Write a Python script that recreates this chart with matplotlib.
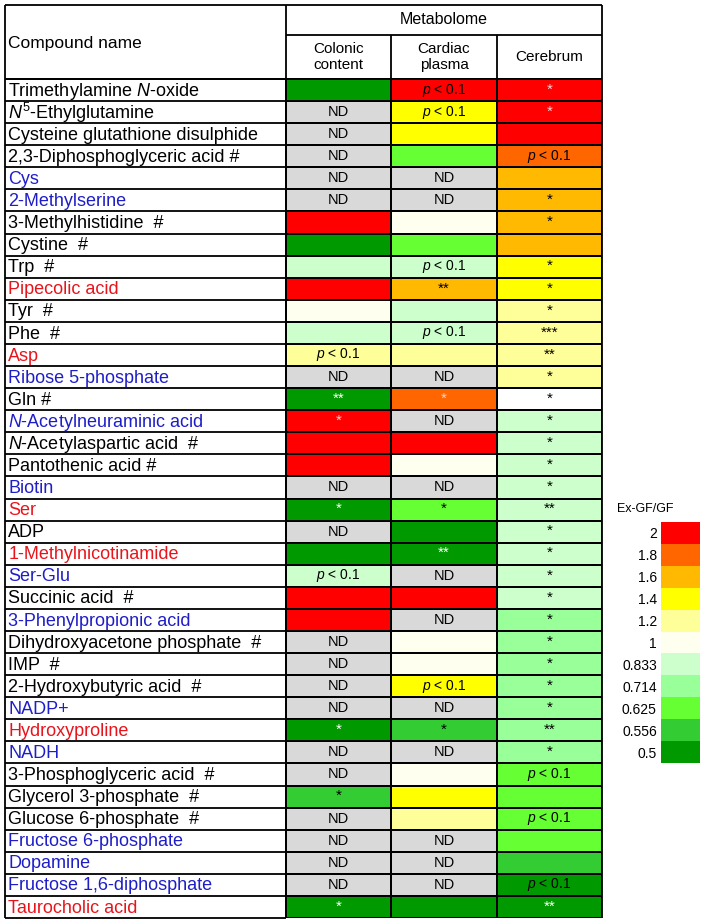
import numpy as np
import matplotlib
matplotlib.use('Agg')
import matplotlib.pyplot as plt
from matplotlib.colors import ListedColormap, BoundaryNorm

plt.rcParams['font.family'] = ['Liberation Sans', 'DejaVu Sans']
plt.rcParams['mathtext.fontset'] = 'custom'
plt.rcParams['mathtext.rm'] = 'Liberation Sans'
plt.rcParams['mathtext.it'] = 'Liberation Sans:italic'
plt.rcParams['mathtext.bf'] = 'Liberation Sans:bold'

# ---------------- data ----------------
compounds = [
    "Trimethylamine $N$-oxide", "$N^5$-Ethylglutamine", "Cysteine glutathione disulphide",
    "2,3-Diphosphoglyceric acid #", "Cys", "2-Methylserine", "3-Methylhistidine  #",
    "Cystine  #", "Trp  #", "Pipecolic acid", "Tyr  #", "Phe  #", "Asp",
    "Ribose 5-phosphate", "Gln #", "$N$-Acetylneuraminic acid", "$N$-Acetylaspartic acid  #",
    "Pantothenic acid #", "Biotin", "Ser", "ADP", "1-Methylnicotinamide", "Ser-Glu",
    "Succinic acid  #", "3-Phenylpropionic acid", "Dihydroxyacetone phosphate  #",
    "IMP  #", "2-Hydroxybutyric acid  #", "NADP+", "Hydroxyproline", "NADH",
    "3-Phosphoglyceric acid  #", "Glycerol 3-phosphate  #", "Glucose 6-phosphate  #",
    "Fructose 6-phosphate", "Dopamine", "Fructose 1,6-diphosphate", "Taurocholic acid",
]
name_group = [
    'k', 'k', 'k', 'k', 'b', 'b', 'k', 'k', 'k', 'r', 'k', 'k', 'r',
    'b', 'k', 'b', 'k', 'k', 'b', 'r', 'k', 'r', 'b', 'k', 'b', 'k',
    'k', 'k', 'b', 'r', 'b', 'k', 'k', 'k', 'b', 'b', 'b', 'r',
]
# Ex-GF/GF level per tissue ('ND' = not detected, '-' = blank)
colonic = ['0.5', 'ND', 'ND', 'ND', 'ND', 'ND', '2', '0.5', '0.833', '2', '1', '0.833', '1.2',
           'ND', '0.5', '2', '2', '2', 'ND', '0.5', 'ND', '0.5', '0.833', '2', '2', 'ND',
           'ND', 'ND', 'ND', '0.5', 'ND', 'ND', '0.556', 'ND', 'ND', 'ND', 'ND', '0.5']
cardiac = ['2', '1.4', '1.4', '0.625', 'ND', 'ND', '1', '0.625', '0.833', '1.6', '0.833', '0.833', '1.2',
           'ND', '1.8', 'ND', '2', '1', 'ND', '0.625', '0.5', '0.5', 'ND', '2', 'ND', '1',
           '1', '1.4', 'ND', '0.556', 'ND', '1', '1.4', '1.2', 'ND', 'ND', 'ND', '0.5']
cerebrum = ['2', '2', '2', '1.8', '1.6', '1.6', '1.6', '1.6', '1.4', '1.4', '1.2', '1.2', '1.2',
            '1.2', '-', '0.833', '0.833', '0.833', '0.833', '0.833', '0.833', '0.833', '0.833', '0.833', '0.714', '0.714',
            '0.714', '0.714', '0.714', '0.714', '0.714', '0.625', '0.625', '0.625', '0.625', '0.556', '0.5', '0.5']
# significance marks ('p' = p < 0.1)
colonic_sig = ['', '', '', '', '', '', '', '', '', '', '', '', 'p',
               '', '**', '*', '', '', '', '*', '', '', 'p', '', '', '',
               '', '', '', '*', '', '', '*', '', '', '', '', '*']
cardiac_sig = ['p', 'p', '', '', '', '', '', '', 'p', '**', '', 'p', '',
               '', '*', '', '', '', '', '*', '', '**', '', '', '', '',
               '', 'p', '', '*', '', '', '', '', '', '', '', '']
cerebrum_sig = ['*', '*', '', 'p', '', '*', '*', '', '*', '*', '*', '***', '**',
                '*', '*', '*', '*', '*', '*', '**', '*', '*', '*', '*', '*', '*',
                '*', '*', '*', '**', '*', 'p', '', 'p', '', '', 'p', '**']
tissues = ['Colonic\ncontent', 'Cardiac\nplasma', 'Cerebrum']
legend_levels = ['2', '1.8', '1.6', '1.4', '1.2', '1', '0.833', '0.714', '0.625', '0.556', '0.5']

# ---------------- styles ----------------
level_colors = ['#FF0000', '#FF6600', '#FFB900', '#FFFF00', '#FFFF99', '#FFFFF0',
                '#CCFFCC', '#99FF99', '#66FF33', '#33CC33', '#009900']
codes = legend_levels + ['ND', '-']
cmap = ListedColormap(level_colors + ['#D9D9D9', '#FFFFFF'])
norm = BoundaryNorm(np.arange(len(codes) + 1) - 0.5, len(codes))
group_color = {'k': '#000000', 'b': '#1E1EC8', 'r': '#E8141B'}

W, H, DPI = 708, 924, 100
fig = plt.figure(figsize=(W / DPI, H / DPI), dpi=DPI)

# table geometry in pixels
L, R, T, B = 5, 602, 5, 918
name_right = 286
header_bottom = 79
band_bottom = 35
n_rows = len(compounds)
ncol = len(tissues)
col_w = (R - name_right) / ncol
row_h = (B - header_bottom) / n_rows
NW = (name_right - L) / col_w
HDR = (header_bottom - T) / row_h
BAND = (header_bottom - band_bottom) / row_h

ax = fig.add_axes([L / W, 1 - B / H, (R - L) / W, (B - T) / H])
ax.set_xlim(-NW, ncol)
ax.set_ylim(n_rows, -HDR)
ax.axis('off')

table = [colonic, cardiac, cerebrum]
sigs = [colonic_sig, cardiac_sig, cerebrum_sig]
M = np.array([[codes.index(table[c][r]) for c in range(ncol)] for r in range(n_rows)])
ax.pcolormesh(np.arange(ncol + 1), np.arange(n_rows + 1), M, cmap=cmap, norm=norm,
              edgecolors='k', linewidth=1.2)

lw = 1.3
ax.hlines(np.arange(n_rows + 1), -NW, 0, color='k', lw=lw, clip_on=False)
ax.hlines([-HDR, 0], -NW, ncol, color='k', lw=lw, clip_on=False)
ax.hlines([-BAND], 0, ncol, color='k', lw=lw, clip_on=False)
ax.vlines([-NW, 0, ncol], -HDR, n_rows, color='k', lw=lw, clip_on=False)
ax.vlines(np.arange(1, ncol), -BAND, 0, color='k', lw=lw, clip_on=False)

# header text
ax.text(-NW + 0.03, -HDR / 2 + 0.05, 'Compound name', ha='left', va='center', fontsize=12.5)
ax.text(ncol / 2, -(HDR + BAND) / 2, 'Metabolome', ha='center', va='center', fontsize=11.5)
for c, t in enumerate(tissues):
    ax.text(c + 0.5, -BAND / 2, t, ha='center', va='center', fontsize=11, linespacing=1.2)

# compound names
for r, (name, g) in enumerate(zip(compounds, name_group)):
    ax.text(-NW + 0.03, r + 0.55, name, ha='left', va='center', fontsize=13,
            color=group_color[g])

# cell annotations
for c in range(ncol):
    for r in range(n_rows):
        code = table[c][r]
        s = sigs[c][r]
        if code == 'ND':
            ax.text(c + 0.5, r + 0.5, 'ND', ha='center', va='center', fontsize=10.5)
        if s == 'p':
            ax.text(c + 0.5, r + 0.5, '$p$ < 0.1', ha='center', va='center', fontsize=10)
        elif s:
            if code == '0.5':
                col = 'white'
            elif code in ('2', '1.8'):
                col = '#FFD0D0'
            else:
                col = 'black'
            ax.text(c + 0.5, r + 0.48, s, ha='center', va='center', fontsize=11, color=col)

# legend
lx0, lx1, ly0, ly1 = 661, 700, 522, 763
lax = fig.add_axes([lx0 / W, 1 - ly1 / H, (lx1 - lx0) / W, (ly1 - ly0) / H])
nl = len(legend_levels)
lax.pcolormesh(np.arange(2), np.arange(nl + 1),
               np.arange(nl).reshape(-1, 1), cmap=cmap, norm=norm)
lax.set_ylim(nl, 0)
lax.set_xlim(0, 1)
lax.set_xticks([])
lax.set_yticks(np.arange(nl) + 0.5)
lax.set_yticklabels(legend_levels, fontsize=10)
lax.tick_params(axis='y', length=0, pad=3)
for sp in lax.spines.values():
    sp.set_visible(False)
fig.text(645 / W, 1 - 509 / H, 'Ex-GF/GF', ha='center', va='center', fontsize=9)

fig.savefig('out.png', dpi=DPI)
